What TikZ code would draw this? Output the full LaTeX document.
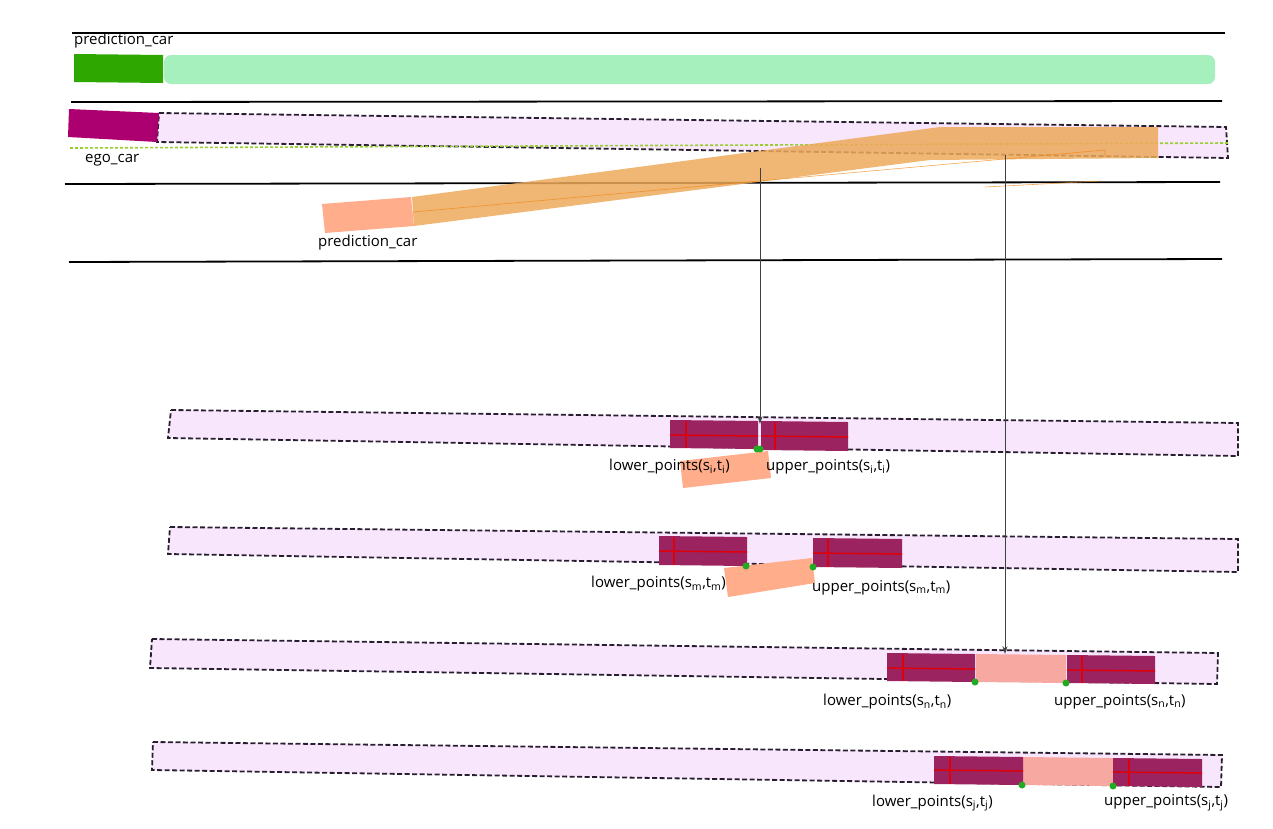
\documentclass[tikz,border=0pt]{standalone}
\usepackage{fontspec}
\setmainfont{Open Sans}
\usetikzlibrary{arrows.meta}
\definecolor{dgreen}{RGB}{46,168,0}
\definecolor{lgreen}{RGB}{166,240,190}
\definecolor{egomag}{RGB}{173,0,112}
\definecolor{corrpink}{RGB}{248,230,253}
\definecolor{bandorange}{RGB}{236,170,90}
\definecolor{salmon}{RGB}{255,173,138}
\definecolor{midsalmon}{RGB}{247,168,160}
\definecolor{pbox}{RGB}{155,35,95}
\definecolor{redl}{RGB}{222,0,10}
\definecolor{gdot}{RGB}{34,170,34}
\definecolor{dashc}{RGB}{40,30,48}
\definecolor{egoline}{RGB}{154,205,50}
\tikzset{
  lane/.style={line width=1.8pt, black},
  corridor/.style={fill=corrpink, draw=dashc, line width=1.8pt, dash pattern=on 5pt off 2.5pt},
  obox/.style={fill=pbox},
  redline/.style={draw=redl, line width=1.5pt},
  gpt/.style={circle, fill=gdot, inner sep=0pt, minimum size=7pt},
  lbl/.style={anchor=west, inner sep=0pt, font=\fontsize{15}{17}\selectfont},
  link/.style={draw=black!75, line width=0.8pt, -{Stealth[length=8pt,width=5pt]}},
}
\newcommand\sbs[1]{\textsubscript{#1}}
\begin{document}
\begin{tikzpicture}[x=1pt,y=-1pt]
\useasboundingbox (0,0) rectangle (1273,828);
% lane lines
\draw[lane] (72,33) -- (1225,33);
\draw[lane] (71,102) -- (1222,101);
\draw[lane] (65,184) -- (1220,182);
\draw[lane] (69,262) -- (1222,259);
% top prediction car
\fill[lgreen, rounded corners=7pt] (164,55) rectangle (1215,84);
\fill[dgreen] (74,54) -- (163,55) -- (163,83) -- (74,82) -- cycle;
\node[lbl] (pc1) at (74,41) {prediction\_car};
% ego corridor
\draw[corridor] (159,113) -- (1226,127) -- (1228,158) -- (157,142) -- cycle;
\fill[egomag] (69,109) -- (159,113) -- (157,142) -- (68,137) -- cycle;
\draw[egoline, line width=1.6pt, dash pattern=on 3pt off 2pt] (70,148) -- (1228,143);
\node[lbl] (ego) at (85,160) {ego\_car};
% lower prediction car and its band
\fill[bandorange, opacity=0.85] (412,197) -- (940,127) -- (1158,127) -- (1158,158) -- (930,160) -- (414,226) -- cycle;
\draw[orange!80!brown, line width=0.6pt, opacity=0.7] (413,212) -- (1105,150) -- (1105,156);
\draw[orange!80!brown, line width=0.6pt, opacity=0.7] (985,187) -- (1100,181);
\fill[salmon] (322,204) -- (411,197) -- (414,226) -- (325,233) -- cycle;
\node[lbl] (pc2) at (318,243) {prediction\_car};
% arrow anchors
\coordinate (a1s) at (760,168);
\coordinate (a2s) at (1005,155);
% corridor A
\draw[corridor] (171,410) -- (1238,423) -- (1238,456) -- (168,438) -- cycle;
\fill[salmon] (680,461) -- (768,451) -- (771,478) -- (683,488) -- cycle;
\fill[obox] (670,420) -- (758,421) -- (758,449) -- (670,448) -- cycle;
\fill[obox] (761,421) -- (848,422) -- (848,451) -- (761,450) -- cycle;
\draw[redline] (670,435) -- (758,436) (761,436) -- (848,437);
\draw[redline] (686,421) -- (686,448) (775,422) -- (775,450);
\node[gpt] (gA1) at (757,449) {};
\node[gpt] (gA2) at (760,449) {};
\coordinate (a1e) at (760,424);
\node[lbl] (lA) at (609,467) {lower\_points(s\sbs{i},t\sbs{i})};
\node[lbl] (uA) at (766,467) {upper\_points(s\sbs{i},t\sbs{i})};
% corridor B
\draw[corridor] (170,527) -- (1238,539) -- (1238,572) -- (168,554) -- cycle;
\fill[salmon] (724,568) -- (812,558) -- (815,583) -- (728,597) -- cycle;
\fill[obox] (659,536) -- (747,537) -- (747,566) -- (659,565) -- cycle;
\fill[obox] (813,538) -- (902,539) -- (902,568) -- (813,567) -- cycle;
\draw[redline] (659,551) -- (747,552) (813,553) -- (902,554);
\draw[redline] (674,537) -- (674,565) (828,539) -- (828,567);
\node[gpt] (gB1) at (746,566) {};
\node[gpt] (gB2) at (813,567) {};
\node[lbl] (lB) at (591,584) {lower\_points(s\sbs{m},t\sbs{m})};
\node[lbl] (uB) at (812,588) {upper\_points(s\sbs{m},t\sbs{m})};
% corridor C
\draw[corridor] (152,639) -- (1218,653) -- (1217,684) -- (150,668) -- cycle;
\fill[midsalmon] (976,654) -- (1066,655) -- (1066,683) -- (976,682) -- cycle;
\fill[obox] (887,653) -- (975,654) -- (975,682) -- (887,681) -- cycle;
\fill[obox] (1067,655) -- (1155,656) -- (1155,684) -- (1067,683) -- cycle;
\draw[redline] (887,668) -- (975,669) (1067,670) -- (1155,671);
\draw[redline] (903,654) -- (903,681) (1082,656) -- (1082,683);
\node[gpt] (gC1) at (975,682) {};
\node[gpt] (gC2) at (1066,683) {};
\coordinate (a2e) at (1005,654);
\node[lbl] (lC) at (823,702) {lower\_points(s\sbs{n},t\sbs{n})};
\node[lbl] (uC) at (1054,702) {upper\_points(s\sbs{n},t\sbs{n})};
% corridor D
\draw[corridor] (153,742) -- (1222,755) -- (1221,787) -- (152,770) -- cycle;
\fill[midsalmon] (1023,757) -- (1113,758) -- (1113,786) -- (1023,785) -- cycle;
\fill[obox] (934,756) -- (1023,757) -- (1023,785) -- (934,784) -- cycle;
\fill[obox] (1113,758) -- (1202,759) -- (1202,787) -- (1113,786) -- cycle;
\draw[redline] (934,770) -- (1023,771) (1113,772) -- (1202,773);
\draw[redline] (950,757) -- (950,784) (1129,759) -- (1129,786);
\node[gpt] (gD1) at (1022,785) {};
\node[gpt] (gD2) at (1113,786) {};
\node[lbl] (lD) at (872,803) {lower\_points(s\sbs{j},t\sbs{j})};
\node[lbl] (uD) at (1104,803) {upper\_points(s\sbs{j},t\sbs{j})};
% arrows
\draw[link] (a1s) -- (a1e);
\draw[link] (a2s) -- (a2e);
\end{tikzpicture}
\end{document}
